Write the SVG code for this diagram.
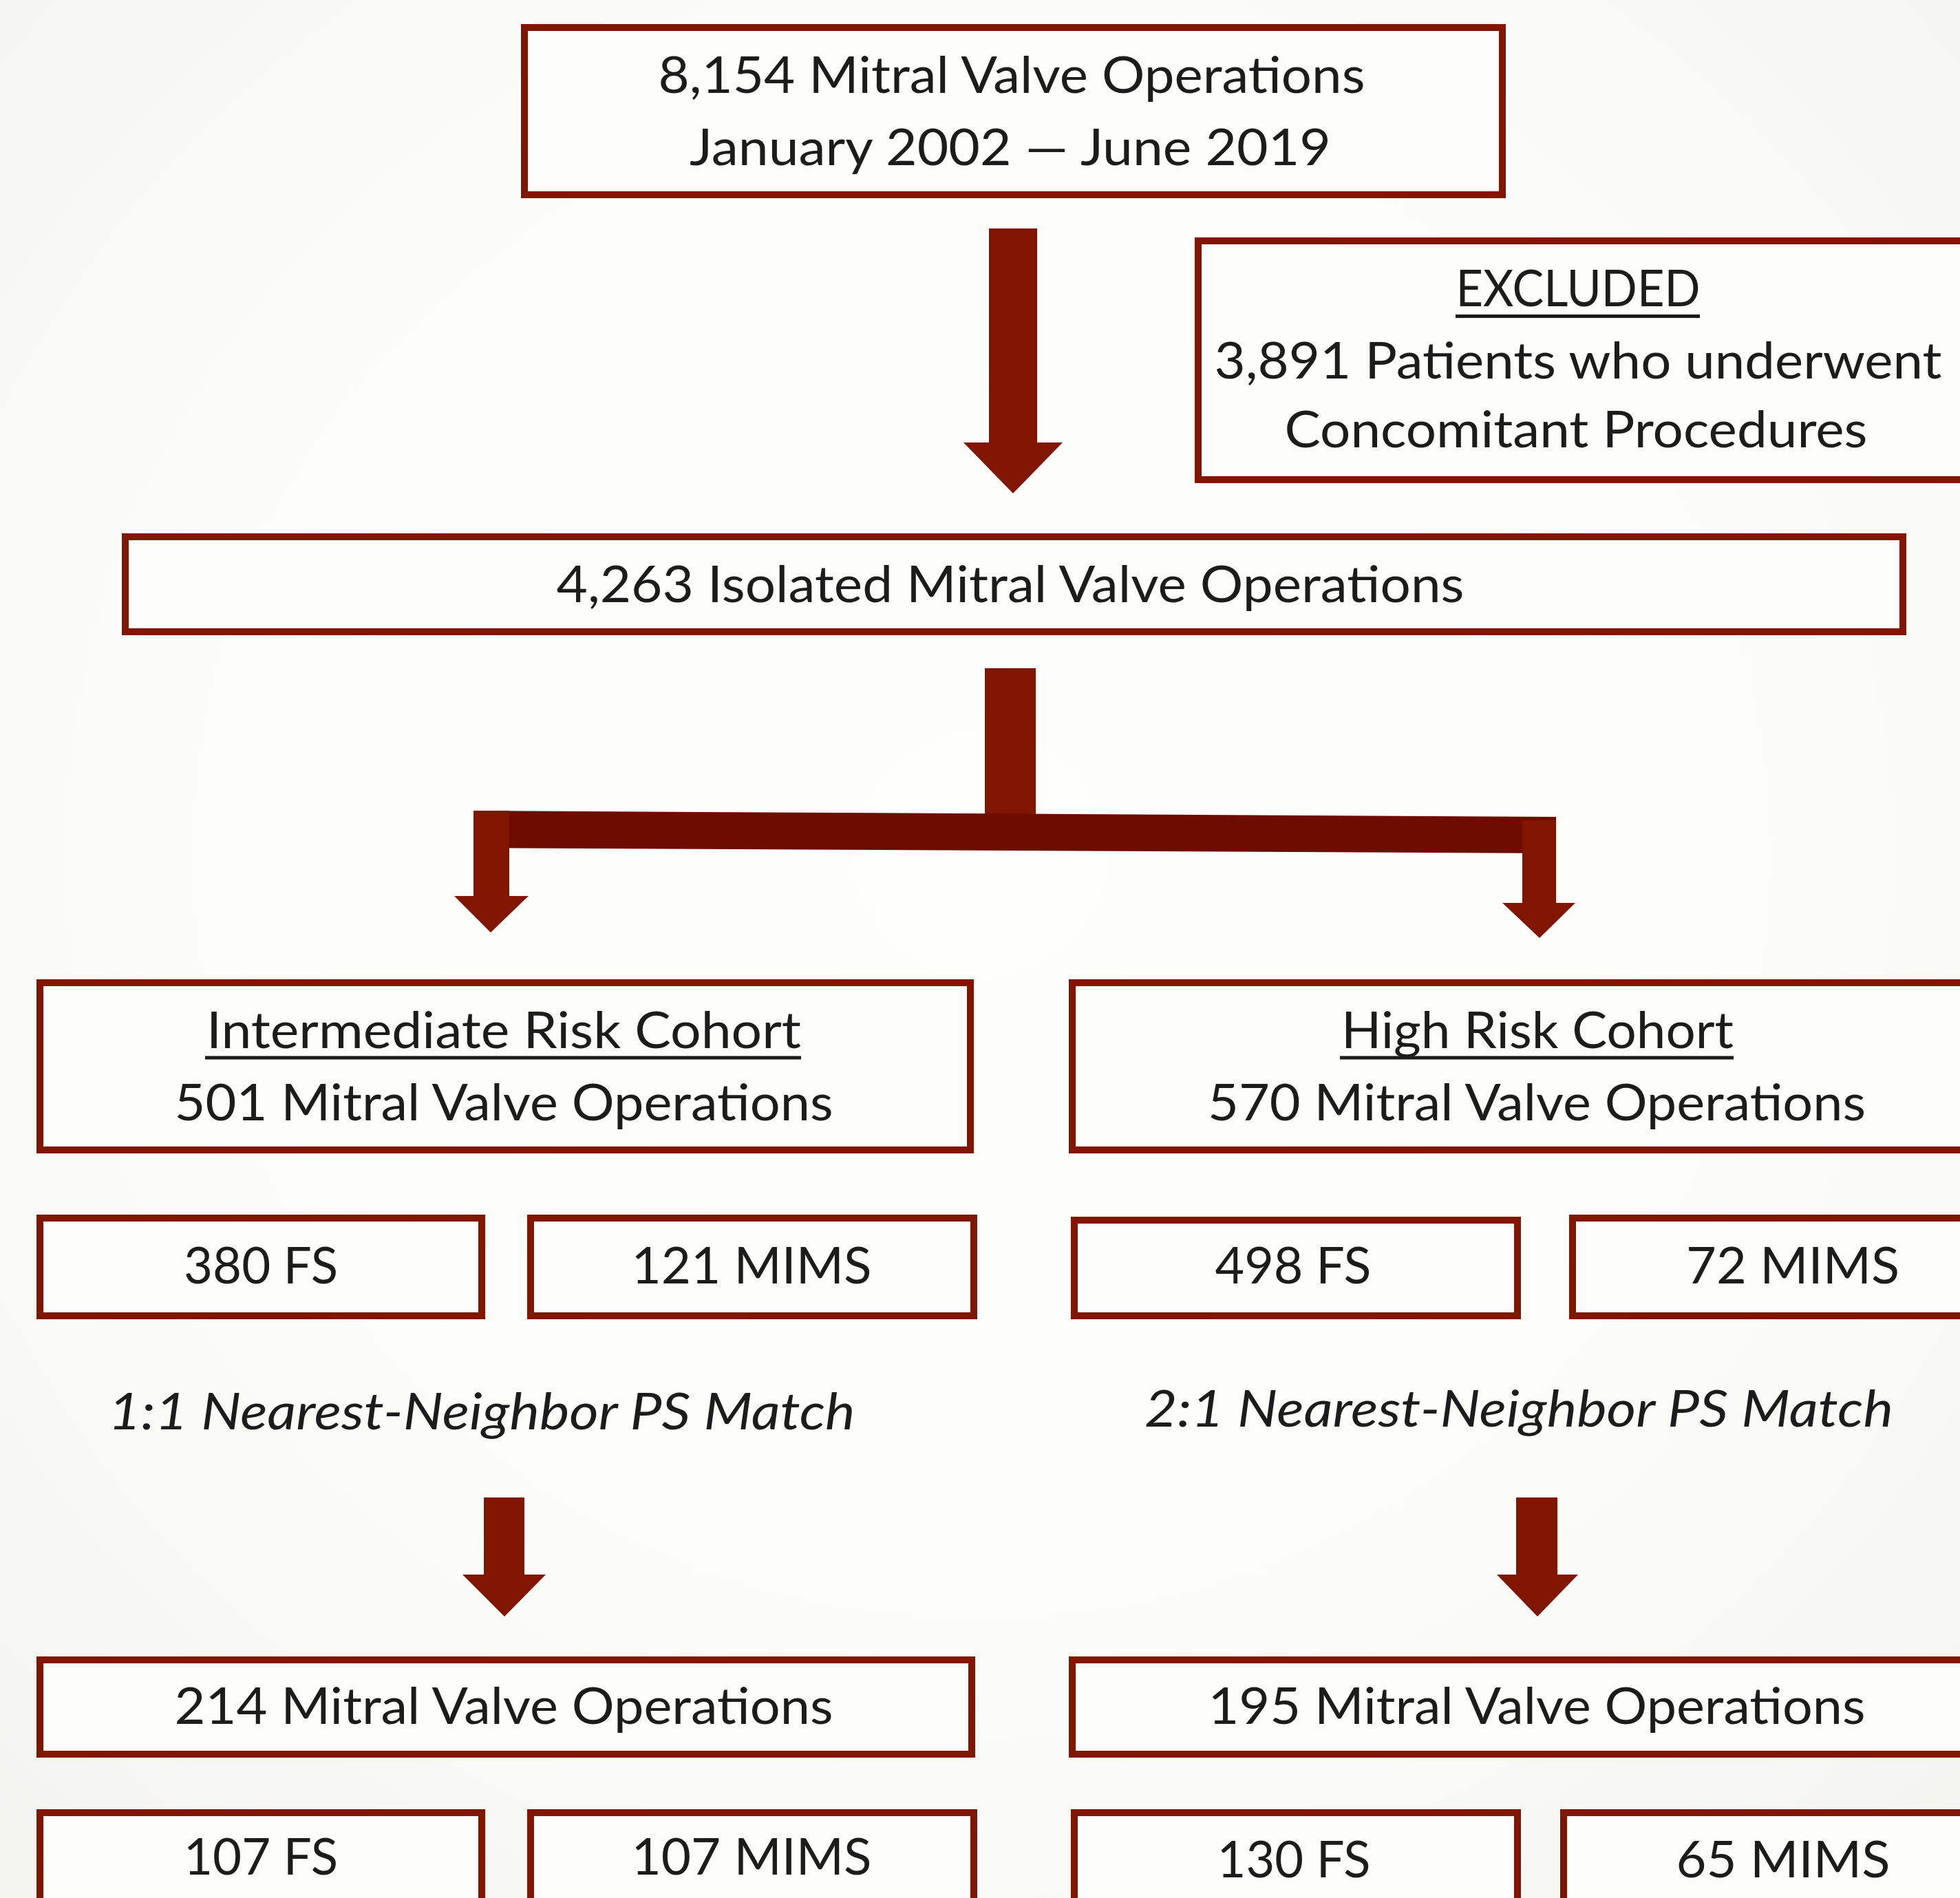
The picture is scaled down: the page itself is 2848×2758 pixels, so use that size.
<svg xmlns="http://www.w3.org/2000/svg" width="2848" height="2758" viewBox="0 0 2848 2758">
<defs>
<radialGradient id="bg" cx="50%" cy="45%" r="75%">
<stop offset="0" stop-color="#FEFEFD"/>
<stop offset="0.6" stop-color="#FBFBF8"/>
<stop offset="1" stop-color="#F3F4EE"/>
</radialGradient>
<style>
.box{fill:#FCFCFA;stroke:#801500;stroke-width:10}
.t{font-family:Lato,"Liberation Sans",sans-serif;font-size:73px;fill:#1C1C1C;text-anchor:middle}
.i{font-style:italic}
.arr{fill:#801500}
.bar{fill:#6E0C00}
.ul{stroke:#1C1C1C;stroke-width:5}
</style>
</defs>
<rect x="0" y="0" width="2848" height="2758" fill="url(#bg)"/>

<g id="connectors">
<polygon class="arr" points="1437,332 1507,332 1507,643 1544,643 1472,717 1400,643 1437,643"/>
<rect class="arr" x="1431" y="971" width="74" height="214"/>
<polygon class="bar" points="688,1178 2261,1187 2261,1240 688,1232"/>
<polygon class="arr" points="688,1178 740,1178 740,1302 768,1302 713,1355 660,1302 688,1302"/>
<polygon class="arr" points="2212,1192 2261,1192 2261,1312 2289,1312 2237,1363 2183,1312 2212,1312"/>
<polygon class="arr" points="703,2176 762,2176 762,2288 793,2288 733,2349 672,2288 703,2288"/>
<polygon class="arr" points="2203,2176 2263,2176 2263,2288 2293,2288 2234,2349 2175,2288 2203,2288"/>
</g>

<g id="n-total">
<rect class="box" x="762" y="40" width="1421" height="243"/>
<text class="t" x="1470" y="135" textLength="1027" lengthAdjust="spacingAndGlyphs">8,154 Mitral Valve Operations</text>
<text class="t" x="1468" y="240" textLength="932" lengthAdjust="spacingAndGlyphs">January 2002 — June 2019</text>
</g>

<g id="n-excluded">
<rect class="box" x="1741" y="350" width="1130" height="347"/>
<text class="t" x="2293" y="445" textLength="355" lengthAdjust="spacingAndGlyphs">EXCLUDED</text>
<line class="ul" x1="2115" y1="459.5" x2="2470" y2="459.5"/>
<text class="t" x="2293" y="550" textLength="1057" lengthAdjust="spacingAndGlyphs">3,891 Patients who underwent</text>
<text class="t" x="2290" y="650" textLength="847" lengthAdjust="spacingAndGlyphs">Concomitant Procedures</text>
</g>

<g id="n-isolated">
<rect class="box" x="182" y="780" width="2583" height="138"/>
<text class="t" x="1468" y="875" textLength="1319" lengthAdjust="spacingAndGlyphs">4,263 Isolated Mitral Valve Operations</text>
</g>

<g id="n-intermediate">
<rect class="box" x="58" y="1428" width="1352" height="243"/>
<text class="t" x="732" y="1523" textLength="864" lengthAdjust="spacingAndGlyphs">Intermediate Risk Cohort</text>
<line class="ul" x1="298" y1="1537" x2="1164" y2="1537"/>
<text class="t" x="732" y="1628" textLength="957" lengthAdjust="spacingAndGlyphs">501 Mitral Valve Operations</text>
</g>

<g id="n-high">
<rect class="box" x="1558" y="1428" width="1362" height="243"/>
<text class="t" x="2234" y="1523" textLength="570" lengthAdjust="spacingAndGlyphs">High Risk Cohort</text>
<line class="ul" x1="1947" y1="1537" x2="2519" y2="1537"/>
<text class="t" x="2233" y="1628" textLength="956" lengthAdjust="spacingAndGlyphs">570 Mitral Valve Operations</text>
</g>

<g id="n-380fs">
<rect class="box" x="58" y="1770" width="642" height="142"/>
<text class="t" x="379" y="1865" textLength="224" lengthAdjust="spacingAndGlyphs">380 FS</text>
</g>
<g id="n-121mims">
<rect class="box" x="771" y="1770" width="644" height="142"/>
<text class="t" x="1092" y="1865" textLength="349" lengthAdjust="spacingAndGlyphs">121 MIMS</text>
</g>
<g id="n-498fs">
<rect class="box" x="1561" y="1773" width="644" height="139"/>
<text class="t" x="1879" y="1865" textLength="227" lengthAdjust="spacingAndGlyphs">498 FS</text>
</g>
<g id="n-72mims">
<rect class="box" x="2285" y="1770" width="660" height="142"/>
<text class="t" x="2605" y="1865" textLength="310" lengthAdjust="spacingAndGlyphs">72 MIMS</text>
</g>

<g id="lbl-match-left">
<text class="t i" x="700" y="2077" textLength="1085" lengthAdjust="spacingAndGlyphs">1:1 Nearest-Neighbor PS Match</text>
</g>
<g id="lbl-match-right">
<text class="t i" x="2207" y="2073" textLength="1088" lengthAdjust="spacingAndGlyphs">2:1 Nearest-Neighbor PS Match</text>
</g>

<g id="n-214">
<rect class="box" x="58" y="2412" width="1354" height="137"/>
<text class="t" x="732" y="2505" textLength="957" lengthAdjust="spacingAndGlyphs">214 Mitral Valve Operations</text>
</g>
<g id="n-195">
<rect class="box" x="1558" y="2412" width="1362" height="137"/>
<text class="t" x="2233" y="2505" textLength="955" lengthAdjust="spacingAndGlyphs">195 Mitral Valve Operations</text>
</g>

<g id="n-107fs">
<rect class="box" x="58" y="2634" width="642" height="200"/>
<text class="t" x="379" y="2724" textLength="224" lengthAdjust="spacingAndGlyphs">107 FS</text>
</g>
<g id="n-107mims">
<rect class="box" x="771" y="2634" width="644" height="200"/>
<text class="t" x="1092" y="2724" textLength="349" lengthAdjust="spacingAndGlyphs">107 MIMS</text>
</g>
<g id="n-130fs">
<rect class="box" x="1561" y="2634" width="644" height="200"/>
<text class="t" x="1880" y="2728" textLength="223" lengthAdjust="spacingAndGlyphs">130 FS</text>
</g>
<g id="n-65mims">
<rect class="box" x="2272" y="2634" width="660" height="200"/>
<text class="t" x="2591" y="2728" textLength="311" lengthAdjust="spacingAndGlyphs">65 MIMS</text>
</g>
</svg>
